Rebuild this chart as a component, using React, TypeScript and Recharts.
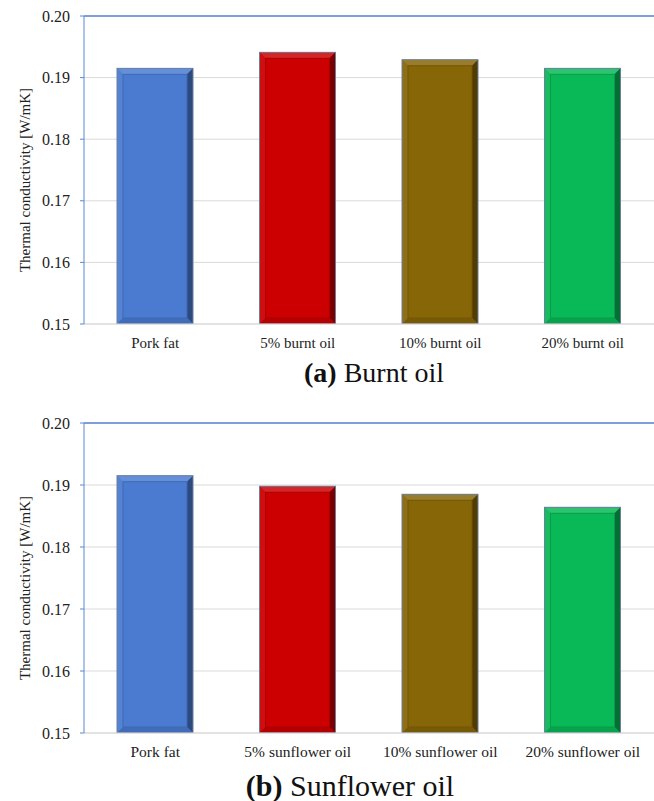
import { BarChart, Bar, XAxis, YAxis, CartesianGrid, Cell, ReferenceLine } from 'recharts';

const categoriesA = ['Pork fat', '5% burnt oil', '10% burnt oil', '20% burnt oil'];
const valuesA = [0.1915, 0.1941, 0.1929, 0.1915];

const categoriesB = ['Pork fat', '5% sunflower oil', '10% sunflower oil', '20% sunflower oil'];
const valuesB = [0.1915, 0.1898, 0.1885, 0.1864];

const barColors = ['#4a7bd1', '#cc0000', '#876607', '#09b856'];
const yTicks = [0.15, 0.16, 0.17, 0.18, 0.19, 0.2];
const yLabel = 'Thermal conductivity [W/mK]';

const FONT = '"Liberation Serif"';

function mix(hex: string, target: number, amt: number) {
  const n = parseInt(hex.slice(1), 16);
  const ch = [(n >> 16) & 255, (n >> 8) & 255, n & 255].map((c) => Math.round(c + (target - c) * amt));
  return `rgb(${ch[0]},${ch[1]},${ch[2]})`;
}

function BevelBar(props: any) {
  const { x, y, width: w, height: h, index } = props;
  if (!w || !h) return null;
  const base = barColors[index];
  const b = 6;
  return (
    <g>
      <rect x={x} y={y} width={w} height={h} fill={base} />
      <polygon points={`${x},${y} ${x + w},${y} ${x + w - b},${y + b} ${x + b},${y + b}`} fill={mix(base, 255, 0.15)} />
      <polygon points={`${x},${y} ${x + b},${y + b} ${x + b},${y + h - b} ${x},${y + h}`} fill={mix(base, 255, 0.06)} />
      <polygon points={`${x + w},${y} ${x + w},${y + h} ${x + w - b},${y + h - b} ${x + w - b},${y + b}`} fill={mix(base, 0, 0.4)} />
      <polygon points={`${x},${y + h} ${x + b},${y + h - b} ${x + w - b},${y + h - b} ${x + w},${y + h}`} fill={mix(base, 0, 0.12)} />
      <rect x={x + b} y={y + b} width={w - 2 * b} height={h - 2 * b} fill="none" stroke={mix(base, 0, 0.15)} strokeWidth={1} />
      <rect x={x} y={y} width={w} height={h} fill="none" stroke="#6a7f9e" strokeWidth={1} />
    </g>
  );
}

function Panel({ categories, values, height, top, xFont, xAxisHeight }: any) {
  const data = categories.map((name: string, i: number) => ({ name, value: values[i] }));
  return (
    <BarChart width={654} height={height} data={data} margin={{ top, right: 0, left: 0, bottom: 0 }} barSize={76}>
      <CartesianGrid vertical={false} stroke="#d9d9d9" />
      <XAxis
        dataKey="name"
        height={xAxisHeight}
        axisLine={{ stroke: '#d9d9d9' }}
        tickLine={false}
        tickSize={6}
        tickMargin={7}
        tick={{ fill: '#222', fontSize: xFont, fontFamily: FONT }}
        interval={0}
      />
      <YAxis
        width={84}
        domain={[0.15, 0.2]}
        ticks={yTicks}
        allowDataOverflow
        tickFormatter={(v: number) => v.toFixed(2)}
        axisLine={{ stroke: '#5b86d6' }}
        tickLine={{ stroke: '#5b86d6' }}
        tickSize={4}
        tickMargin={10}
        tick={{ fill: '#222', fontSize: 16, fontFamily: FONT }}
      />
      <ReferenceLine y={0.2} stroke="#5b86d6" strokeWidth={1.5} />
      <Bar dataKey="value" shape={BevelBar} isAnimationActive={false}>
        {data.map((_: any, i: number) => (
          <Cell key={i} fill={barColors[i]} />
        ))}
      </Bar>
    </BarChart>
  );
}

function YTitle({ cy }: { cy: number }) {
  return (
    <div
      style={{
        position: 'absolute',
        left: 25,
        top: cy,
        transform: 'translate(-50%, -50%) rotate(-90deg)',
        whiteSpace: 'nowrap',
        fontSize: 15,
        color: '#222',
        lineHeight: '16px',
      }}
    >
      {yLabel}
    </div>
  );
}

export default function App() {
  return (
    <div style={{ position: 'absolute', left: 0, top: 0, width: 654, height: 801, background: '#fff', fontFamily: FONT }}>
      <div style={{ position: 'absolute', left: 0, top: 0 }}>
        <Panel categories={categoriesA} values={valuesA} height={360} top={16} xFont={15} xAxisHeight={36} />
      </div>
      <YTitle cy={180} />
      <div style={{ position: 'absolute', left: 0, top: 357, width: 654, textAlign: 'center', paddingLeft: 94, boxSizing: 'border-box', fontSize: 28, color: '#111', lineHeight: '32px' }}>
        <b>(a)</b> Burnt oil
      </div>
      <div style={{ position: 'absolute', left: 0, top: 390 }}>
        <Panel categories={categoriesB} values={valuesB} height={380} top={33} xFont={15.5} xAxisHeight={37} />
      </div>
      <YTitle cy={588} />
      <div style={{ position: 'absolute', left: 0, top: 769, width: 654, textAlign: 'center', paddingLeft: 46, boxSizing: 'border-box', fontSize: 30, color: '#111', lineHeight: '34px' }}>
        <b>(b)</b> Sunflower oil
      </div>
    </div>
  );
}
